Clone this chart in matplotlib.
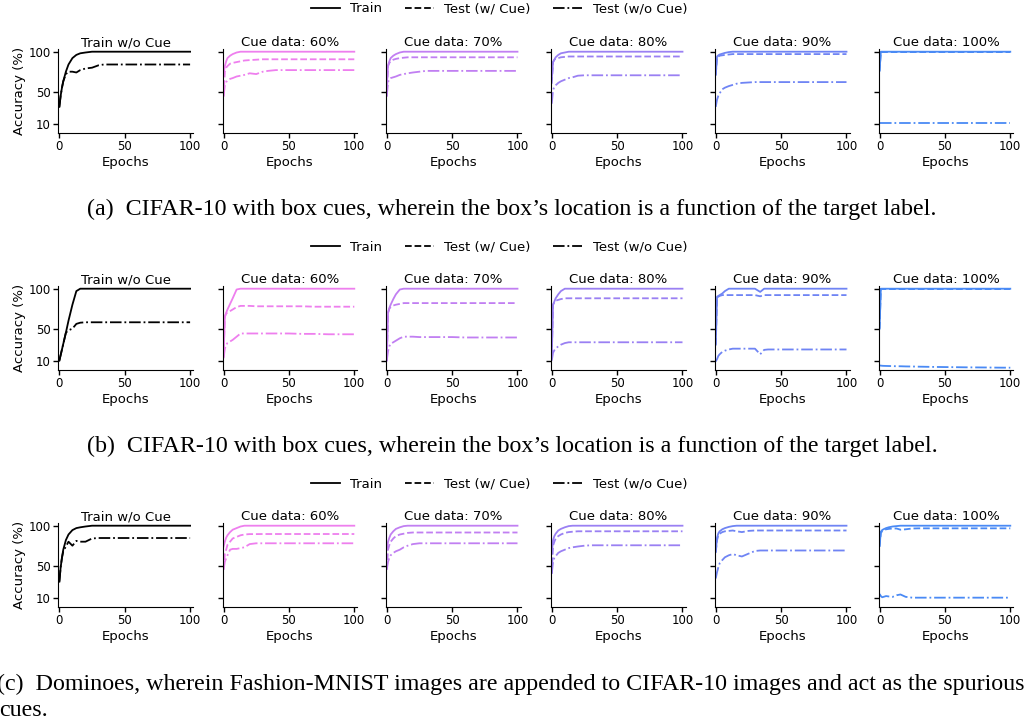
import matplotlib
matplotlib.use("Agg")
import matplotlib.pyplot as plt
from matplotlib.lines import Line2D

# Epochs at which accuracy was logged
epochs = [0, 1, 2, 3, 5, 7, 10, 13, 16, 20, 25, 30, 34, 37, 40, 50, 60, 70, 80, 90, 100]

panel_titles = ["Train w/o Cue", "Cue data: 60%", "Cue data: 70%",
                "Cue data: 80%", "Cue data: 90%", "Cue data: 100%"]
panel_colors = ["black", "#ee7fee", "#c17ff2", "#9a80f3", "#6f84f4", "#4a8af5"]

# (a) CIFAR-10, box cues
a_train = [
    [31, 45, 55, 63, 75, 84, 92, 96, 98, 99, 100, 100, 100, 100, 100, 100, 100, 100, 100, 100, 100],
    [72, 82, 88, 92, 95, 97, 99, 100, 100, 100, 100, 100, 100, 100, 100, 100, 100, 100, 100, 100, 100],
    [56, 83, 88, 92, 95, 97, 99, 100, 100, 100, 100, 100, 100, 100, 100, 100, 100, 100, 100, 100, 100],
    [65, 87, 90, 93, 96, 98, 99, 100, 100, 100, 100, 100, 100, 100, 100, 100, 100, 100, 100, 100, 100],
    [71, 94, 95.5, 96.5, 97.5, 98.5, 99.5, 100, 100, 100, 100, 100, 100, 100, 100, 100, 100, 100, 100, 100, 100],
    [76, 100, 100, 100, 100, 100, 100, 100, 100, 100, 100, 100, 100, 100, 100, 100, 100, 100, 100, 100, 100],
]
a_cue = [
    None,
    [44, 75, 80, 82, 85, 86, 87, 88, 89, 89.5, 90, 90.5, 90.5, 90.5, 90.5, 90.5, 90.5, 90.5, 90.5, 90.5, 90.5],
    [44, 82, 86, 88, 90, 91, 92, 92.5, 93, 93, 93, 93, 93, 93, 93, 93, 93, 93, 93, 93, 93],
    [60, 87, 90, 91, 92, 93, 93.5, 94, 94, 94, 94, 94, 94, 94, 94, 94, 94, 94, 94, 94, 94],
    [71, 93, 94, 95, 95.5, 96, 96.5, 97, 97, 97, 97, 97, 97, 97, 97, 97, 97, 97, 97, 97, 97],
    [76, 99.5, 99.5, 99.5, 99.5, 99.5, 99.5, 99.5, 99.5, 99.5, 99.5, 99.5, 99.5, 99.5, 99.5, 99.5, 99.5, 99.5, 99.5, 99.5, 99.5],
]
a_nocue = [
    [31, 45, 55, 63, 72, 75, 75, 74, 77, 79, 80, 83, 84, 84, 84, 84, 84, 84, 84, 84, 84],
    [44, 58, 62, 64, 66, 67, 69, 70, 71, 73, 72, 75, 76, 76.5, 77, 77, 77, 77, 77, 77, 77],
    [44, 62, 66, 67, 68, 69, 71, 72, 73, 74, 75, 76, 76, 76, 76, 76, 76, 76, 76, 76, 76],
    [35, 52, 56, 58, 61, 63, 65, 67, 68, 70, 70.5, 70.5, 70.5, 70.5, 70.5, 70.5, 70.5, 70.5, 70.5, 70.5, 70.5],
    [31, 40, 45, 48, 53, 55, 57, 58.5, 60, 61, 61.5, 62, 62, 62, 62, 62, 62, 62, 62, 62, 62],
    [10.5, 10.5, 10.5, 10.5, 10.5, 10.5, 10.5, 10.5, 10.5, 10.5, 10.5, 10.5, 10.5, 10.5, 10.5, 10.5, 10.5, 10.5, 10.5, 10.5, 10.5],
]

# (b) CIFAR-10, box cues (second run)
b_train = [
    [10, 17, 24, 31, 45, 60, 80, 97, 100, 100, 100, 100, 100, 100, 100, 100, 100, 100, 100, 100, 100],
    [15, 65, 70, 74, 81, 88, 99, 100, 100, 100, 100, 100, 100, 100, 100, 100, 100, 100, 100, 100, 100],
    [10, 70, 76, 80, 87, 93, 99, 100, 100, 100, 100, 100, 100, 100, 100, 100, 100, 100, 100, 100, 100],
    [15, 80, 84, 88, 93, 97, 100, 100, 100, 100, 100, 100, 100, 100, 100, 100, 100, 100, 100, 100, 100],
    [30, 90, 91, 92, 94, 97, 100, 100, 100, 100, 100, 100, 96, 100, 100, 100, 100, 100, 100, 100, 100],
    [50, 100, 100, 100, 100, 100, 100, 100, 100, 100, 100, 100, 100, 100, 100, 100, 100, 100, 100, 100, 100],
]
b_cue = [
    None,
    [15, 65, 69, 70, 72, 74, 77, 78.5, 78.5, 78.5, 78, 78, 78, 78, 78, 78, 78, 77.5, 77.5, 77.5, 77.5],
    [10, 70, 75, 77, 79, 80, 81, 82, 82, 82, 82, 82, 82, 82, 82, 82, 82, 82, 82, 82, 82],
    [15, 80, 83, 85, 86, 87, 88, 88, 88, 88, 88, 88, 88, 88, 88, 88, 88, 88, 88, 88, 88],
    [30, 89, 90, 91, 92, 92, 92, 92, 92, 92, 92, 92, 90.5, 92, 92, 92, 92, 92, 92, 92, 92],
    [50, 99.5, 99.5, 99.5, 99.5, 99.5, 99.5, 99.5, 99.5, 99.5, 99.5, 99.5, 99.5, 99.5, 99.5, 99.5, 99.5, 99.5, 99.5, 99.5, 99.5],
]
b_nocue = [
    [10, 17, 24, 31, 45, 48, 50, 56, 57.5, 58, 58, 58, 58, 58, 58, 58, 58, 58, 58, 58, 58],
    [13, 25, 30, 32, 34, 36, 40, 44, 44, 44, 44, 44, 44, 44, 44, 44, 43.5, 43.5, 43, 43, 43],
    [10, 22, 28, 31, 33, 35, 38, 40, 40, 40, 39.5, 39.5, 39.5, 39.5, 39.5, 39.5, 39, 39, 39, 39, 39],
    [10, 20, 23, 25, 28, 30, 32, 33, 33, 33, 33, 33, 33, 33, 33, 33, 33, 33, 33, 33, 33],
    [9, 12, 16, 18, 21, 22.5, 24, 25, 25, 25, 25, 25, 18, 23.5, 24, 24, 24, 24, 24, 24, 24],
    [4, 3.8, 3.6, 3.5, 3.4, 3.3, 3.2, 3, 3, 2.8, 2.7, 2.5, 2.4, 2.3, 2.2, 2, 1.8, 1.6, 1.5, 1.3, 1.2],
]

# (c) Dominoes
c_train = [
    [30, 48, 60, 70, 82, 89, 94.5, 97, 98, 99, 100, 100, 100, 100, 100, 100, 100, 100, 100, 100, 100],
    [74, 80, 85, 88, 92, 95, 97, 99, 100, 100, 100, 100, 100, 100, 100, 100, 100, 100, 100, 100, 100],
    [70, 80, 85, 89, 93, 96, 98, 99.5, 100, 100, 100, 100, 100, 100, 100, 100, 100, 100, 100, 100, 100],
    [65, 82, 87, 90, 94, 96, 98, 99.5, 100, 100, 100, 100, 100, 100, 100, 100, 100, 100, 100, 100, 100],
    [67, 85, 90.5, 93, 95.5, 97, 98.5, 99.5, 100, 100, 100, 100, 100, 100, 100, 100, 100, 100, 100, 100, 100],
    [74.6, 92.5, 94.5, 95.5, 97, 98, 99, 99.5, 100, 100, 100, 100, 100, 100, 100, 100, 100, 100, 100, 100, 100],
]
c_cue = [
    None,
    [45, 65, 70, 76, 80, 84, 86, 88, 89, 89.5, 89.5, 89.6, 89.6, 89.6, 89.6, 89.6, 89.6, 89.6, 89.6, 89.6, 89.6],
    [45, 70, 76, 80, 84, 87, 89, 90, 91, 91.5, 91.5, 91.5, 91.5, 91.5, 91.5, 91.5, 91.5, 91.5, 91.5, 91.5, 91.5],
    [40, 75, 80, 84, 87, 89, 91, 92, 92.5, 93, 93, 93, 93, 93, 93, 93, 93, 93, 93, 93, 93],
    [67, 82, 88, 90, 92, 93, 93.5, 94, 93, 92, 93.5, 94, 94, 94, 94, 94, 94, 94, 94, 94, 94],
    [74, 91, 93, 94, 95.5, 96, 96.5, 96.5, 95, 95.5, 96.5, 96.7, 96.7, 96.7, 96.7, 96.7, 96.7, 96.7, 96.7, 96.7, 96.7],
]
c_nocue = [
    [30, 48, 60, 68, 74, 80, 75, 81, 80, 80, 84, 84.6, 84.6, 84.6, 84.6, 84.6, 84.6, 84.6, 84.6, 84.6, 84.6],
    [45, 55, 59, 63, 70, 71, 71, 72, 73, 77, 78, 78, 78, 78, 78, 78, 78, 78, 78, 78, 78],
    [45, 55, 60, 63, 66, 68, 70, 73, 75, 77, 78, 78, 78, 78, 78, 78, 78, 78, 78, 78, 78],
    [40, 55, 60, 62, 66, 68, 70, 72, 73, 74, 75, 75.5, 75.5, 75.5, 75.5, 75.5, 75.5, 75.5, 75.5, 75.5, 75.5],
    [34, 42, 48, 53, 57, 60.5, 63, 64.5, 63, 61.5, 65, 68.4, 69, 69, 69, 69, 69, 69, 69, 69, 69],
    [14.6, 12, 10.5, 11, 12, 11.5, 11, 13, 14, 11, 10, 10, 10, 10, 10, 10, 10, 10, 10, 10, 10],
]

captions = [
    "(a)  CIFAR-10 with box cues, wherein the box\u2019s location is a function of the target label.",
    "(b)  CIFAR-10 with box cues, wherein the box\u2019s location is a function of the target label.",
    "(c)  Dominoes, wherein Fashion-MNIST images are appended to CIFAR-10 images and act as the spurious",
]

W, H = 1024, 721
fig = plt.figure(figsize=(W / 100, H / 100), dpi=100)

col_left = [58.3, 222.5, 385.7, 550.7, 714.7, 878.5]   # px
ax_w, ax_h = 134.8, 83.4
row_bottom = [132.7, 369.7, 606.7]                     # px from top
legend_y = [9, 247, 484]
caption_y = [209, 446, 684]
cap_size = 17.3

rows = [(a_train, a_cue, a_nocue), (b_train, b_cue, b_nocue), (c_train, c_cue, c_nocue)]

for r, (train, cue, nocue) in enumerate(rows):
    for c in range(6):
        ax = fig.add_axes([col_left[c] / W, 1 - row_bottom[r] / H, ax_w / W, ax_h / H])
        color = panel_colors[c]
        ax.plot(epochs, train[c], color=color, lw=1.3, ls='-')
        if cue[c] is not None:
            ax.plot(epochs, cue[c], color=color, lw=1.3, ls='--')
        ax.plot(epochs, nocue[c], color=color, lw=1.3, ls='-.')
        ax.set_xlim(-0.8, 102.3)
        ax.set_ylim(-1.3, 103)
        ax.set_xticks([0, 50, 100])
        ax.set_yticks([10, 50, 100])
        ax.spines['top'].set_visible(False)
        ax.spines['right'].set_visible(False)
        ax.tick_params(labelsize=8.5, length=3.5, width=1, pad=2)
        ax.set_title(panel_titles[c], fontsize=9.5, pad=2)
        ax.set_xlabel("Epochs", fontsize=9.5, labelpad=2)
        if c == 0:
            ax.set_ylabel("Accuracy (%)", fontsize=9.5, labelpad=2)
        else:
            ax.set_yticklabels([])

    handles = [Line2D([], [], color='black', lw=1.3, ls='-'),
               Line2D([], [], color='black', lw=1.3, ls='--'),
               Line2D([], [], color='black', lw=1.3, ls='-.')]
    fig.legend(handles, ["Train", "Test (w/ Cue)", "Test (w/o Cue)"],
               loc='center', bbox_to_anchor=(499 / W, 1 - legend_y[r] / H),
               ncol=3, frameon=False, fontsize=9.5, handlelength=2.2,
               columnspacing=1.7, handletextpad=0.8)

    if r < 2:
        fig.text(512 / W, 1 - caption_y[r] / H, captions[r], ha='center', va='center',
                 fontsize=cap_size, family='Liberation Serif')
    else:
        fig.text(-3 / W, 1 - caption_y[r] / H, captions[r], ha='left', va='center',
                 fontsize=cap_size, family='Liberation Serif')
        fig.text(-1 / W, 1 - 710 / H, "cues.", ha='left', va='center',
                 fontsize=cap_size, family='Liberation Serif')

fig.savefig("out.png", dpi=100)
